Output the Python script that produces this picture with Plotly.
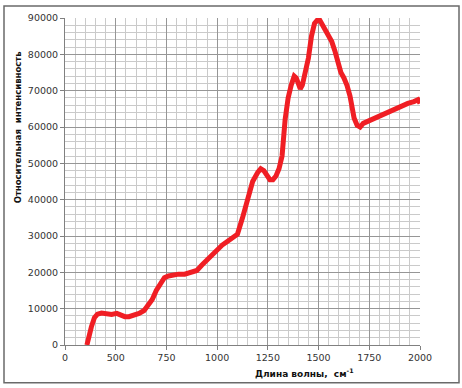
import plotly.graph_objects as go

# Data
wavenumber = [358, 368, 380, 395, 410, 430, 455, 480, 505, 525, 545, 565, 590, 615, 640,
              660, 680, 700, 720, 740, 760, 785, 810, 840, 870, 900, 925, 950, 975, 1000,
              1025, 1050, 1075, 1100, 1125, 1150, 1175, 1200, 1215, 1230, 1245, 1260, 1275,
              1290, 1305, 1320, 1335, 1350, 1365, 1380, 1390, 1400, 1410, 1420, 1435, 1450,
              1465, 1480, 1495, 1505, 1520, 1535, 1550, 1565, 1580, 1595, 1610, 1625, 1640,
              1655, 1665, 1675, 1690, 1705, 1720, 1740, 1760, 1790, 1820, 1850, 1880, 1910,
              1940, 1970, 1990, 2000]
intensity = [0, 2500, 5000, 7500, 8500, 8800, 8600, 8400, 8700, 8300, 7800, 7800, 8200, 8700, 9500,
             10800, 12500, 15000, 17000, 18500, 19000, 19300, 19500, 19500, 20000, 20500, 22000, 23500, 25000, 26500,
             27500, 28500, 29500, 30500, 35000, 40000, 45000, 47500, 48500, 48000, 47000, 45500, 45500,
             46500, 48500, 52000, 62000, 68000, 71500, 74000, 73500, 71500, 70500, 71500, 75000, 79000,
             85000, 88500, 89500, 89500, 88000, 86500, 85500, 83500, 81000, 77500, 75000, 73500, 71500,
             68500, 65000, 62500, 60500, 60000, 61000, 61500, 62000, 62800, 63500, 64300, 65000, 66000,
             66500, 67000, 67500, 66500]

x_tickvals = [250, 500, 750, 1000, 1250, 1500, 1750, 2000]
x_ticktext = ["0", "500", "750", "1000", "1250", "1500", "1750", "2000"]

fig = go.Figure()
fig.add_trace(go.Scatter(x=wavenumber, y=intensity, mode="lines",
                         line=dict(color="#f01e24", width=5), hoverinfo="skip"))

tickfont = dict(family="DejaVu Sans", size=9.5, color="#333333")

fig.update_layout(
    width=462, height=388,
    margin=dict(l=65, r=42, t=16, b=43),
    paper_bgcolor="white", plot_bgcolor="white",
    showlegend=False,
    xaxis=dict(range=[250, 2000], tickmode="array", tickvals=x_tickvals, ticktext=x_ticktext,
               showgrid=True, gridcolor="#969696", gridwidth=1,
               minor=dict(dtick=50, tick0=250, showgrid=True, gridcolor="#cacaca", gridwidth=1),
               ticks="outside", ticklen=4, tickcolor="#808080",
               showline=True, linecolor="#808080", linewidth=1,
               tickfont=tickfont, zeroline=False),
    yaxis=dict(range=[0, 90000], dtick=10000, tick0=0, tickformat="d",
               showgrid=True, gridcolor="#969696", gridwidth=1,
               minor=dict(dtick=2000, tick0=0, showgrid=True, gridcolor="#cacaca", gridwidth=1),
               ticks="outside", ticklen=4, tickcolor="#808080",
               showline=True, linecolor="#808080", linewidth=1,
               tickfont=tickfont, zeroline=False),
    shapes=[dict(type="rect", xref="paper", yref="paper",
                 x0=(4 - 65) / 355, x1=(459 - 65) / 355,
                 y0=(345 - 383) / 329, y1=(345 - 4) / 329,
                 line=dict(color="#6a6a6a", width=1.5), layer="below")],
    annotations=[
        dict(text="<b>Длина волны,&nbsp;&nbsp;см<sup>-1</sup></b>", xref="paper", yref="paper",
             x=(304 - 65) / 355, y=(345 - 373) / 329, showarrow=False,
             xanchor="center", yanchor="middle",
             font=dict(family="DejaVu Sans", size=9, color="#111111")),
        dict(text="<b>Относительная&nbsp;&nbsp;интенсивность</b>", xref="paper", yref="paper",
             x=(18 - 65) / 355, y=(345 - 126) / 329, showarrow=False,
             xanchor="center", yanchor="middle", textangle=-90,
             font=dict(family="DejaVu Sans", size=8.5, color="#111111")),
    ],
)

fig.write_html("out.html", config={"displayModeBar": False},
               post_script="document.body.style.margin='0';document.body.style.overflow='hidden';")
